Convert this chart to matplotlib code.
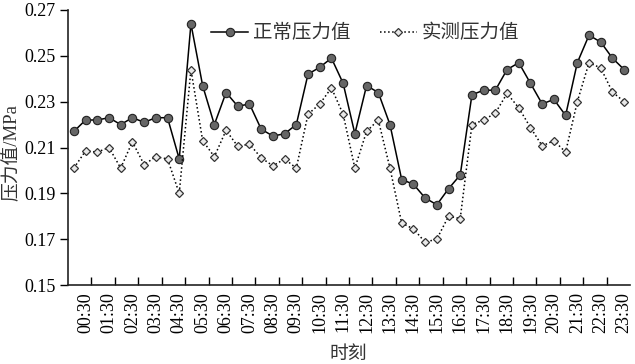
import matplotlib
matplotlib.use("Agg")
import matplotlib.pyplot as plt

times = [f"{h:02d}:{m:02d}" for h in range(24) for m in (0, 30)]
normal = [0.217, 0.222, 0.222, 0.223, 0.220, 0.223, 0.221, 0.223, 0.223, 0.205,
          0.264, 0.237, 0.220, 0.234, 0.228, 0.229, 0.218, 0.215, 0.216, 0.220,
          0.242, 0.245, 0.249, 0.238, 0.216, 0.237, 0.234, 0.220, 0.196, 0.194,
          0.188, 0.185, 0.192, 0.198, 0.233, 0.235, 0.235, 0.244, 0.247, 0.238,
          0.229, 0.231, 0.224, 0.247, 0.259, 0.256, 0.249, 0.244]
measured = [0.201, 0.2085, 0.208, 0.210, 0.201, 0.2125, 0.2025, 0.206, 0.205, 0.190,
            0.244, 0.213, 0.206, 0.2175, 0.2105, 0.2115, 0.2055, 0.202, 0.205, 0.201,
            0.2245, 0.229, 0.236, 0.2245, 0.201, 0.217, 0.222, 0.201, 0.177, 0.1745,
            0.1687, 0.170, 0.180, 0.179, 0.220, 0.222, 0.225, 0.2336, 0.2273, 0.2187,
            0.2107, 0.213, 0.208, 0.230, 0.247, 0.2447, 0.2342, 0.230]
legend_labels = ["正常压力值", "实测压力值"]
yticks = [0.15, 0.17, 0.19, 0.21, 0.23, 0.25, 0.27]

serif = "Liberation Serif"
cjk = ["Noto Sans CJK SC", "DejaVu Sans"]

fig = plt.figure(figsize=(6.35, 3.64), dpi=100)
ax = fig.add_axes([68/635, (364-285)/364, (630-68)/635, 275/364])

x = list(range(len(times)))
ax.plot(x, normal, '-', color='black', lw=1.1, marker='o', ms=6,
        mfc='#666666', mec='#222222', mew=0.8, label=legend_labels[0])
ax.plot(x, measured, ':', color='black', lw=1.1, marker='D', ms=4.2,
        mfc='#e8e8e8', mec='#333333', mew=0.9, label=legend_labels[1])

ax.set_xlim(-0.5, len(times) - 0.5)
ax.set_ylim(0.15, 0.27)
ax.set_yticks(yticks)
ax.set_yticklabels([f"{v:.2f}" for v in yticks], fontfamily=serif, fontsize=13)

ax.set_xticks([i + 0.5 for i in range(1, len(times) - 1, 2)])
ax.set_xticklabels([])
ax.set_xticks(list(range(1, len(times), 2)), minor=True)
ax.set_xticklabels([times[i] for i in range(1, len(times), 2)], minor=True,
                   rotation=90, fontfamily=serif, fontsize=13)
ax.tick_params(axis='x', which='major', direction='in', length=6, width=1)
ax.tick_params(axis='x', which='minor', length=0, pad=5)
ax.tick_params(axis='y', direction='out', length=6, width=1, pad=3)

for s in ['top', 'right']:
    ax.spines[s].set_visible(False)
for s in ['left', 'bottom']:
    ax.spines[s].set_linewidth(1.2)
    ax.spines[s].set_color('#222222')

ax.set_xlabel("时刻", fontfamily=cjk, fontsize=13.5, fontweight='light', labelpad=0, color='#333333')
ax.xaxis.set_label_coords((348-68)/562, -(343-285)/275)
fig.text(12/635, 1 - 152/364, "压力值/MPa", rotation=90, ha='center', va='center',
         fontfamily=[serif, "Noto Sans CJK SC"], fontsize=13.5, color='#333333')

leg = ax.legend(ncol=2, frameon=False, loc='center', bbox_to_anchor=((365-68)/562, (285-33)/275),
                prop={'family': cjk, 'size': 14, 'weight': 'light'},
                handlelength=1.9, columnspacing=1.5, handletextpad=0.25)
for t in leg.get_texts():
    t.set_color('#333333')

fig.savefig("out.png", dpi=100)
